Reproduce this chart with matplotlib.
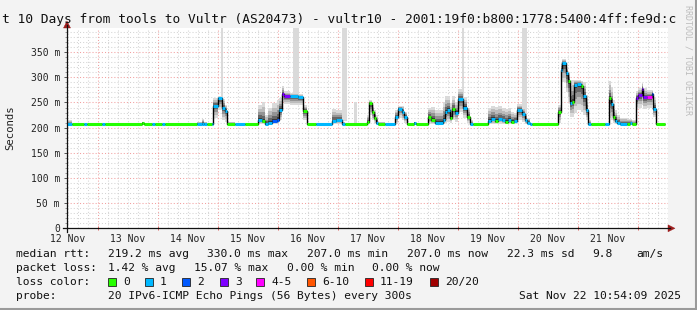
import numpy as np
import matplotlib
matplotlib.use("Agg")
import matplotlib.pyplot as plt
from matplotlib.patches import Rectangle, Polygon
from matplotlib.lines import Line2D

# ---------------- data (time in hours since 12 Nov 2025 00:00) ----------------
seg_start = [10.9, 13.6, 18.4, 19.6, 25.6, 26.8, 41.6, 42.4, 45.6, 46.8, 49.6, 50.8, 63.6, 65.6, 66.4, 67.6, 69.6,
             70.1, 72.0, 73.5, 74.8, 75.7, 78.8, 82.8,
             88.0, 89.6, 90.8, 92.0, 93.6, 95.6, 96.4, 97.4, 98.4, 100.8, 104.0, 106.1, 107.5, 111.2,
             117.5, 119.2, 121.5, 122.8,
             131.5, 132.4, 133.6, 134.4, 135.2, 136.1, 138.8,
             142.8, 144.0, 145.6, 146.4, 147.5, 150.2, 151.2,
             156.1, 157.2, 158.8, 162.1, 162.8, 163.6, 164.8, 165.6, 166.8, 168.1, 170.1, 171.5, 172.8, 174.1,
             180.1, 181.2, 182.8, 184.0, 185.6, 186.8, 188.0, 189.2, 190.4, 191.5, 193.5, 194.8, 195.5, 196.8, 197.6,
             208.1, 209.1, 209.7, 211.2, 212.1, 212.8, 213.5, 214.4, 215.5, 217.1, 218.1, 219.2, 220.1, 221.2, 226.8,
             228.4, 229.2, 230.1, 230.8, 231.6, 232.8, 235.6, 236.8, 237.6,
             239.2, 240.1, 241.5, 242.1, 243.5, 245.5, 246.1, 247.2]
seg_median = [208, 207, 207, 207, 207, 207, 210, 207, 207, 207, 207, 207, 208, 208, 208, 207, 208,
              244, 258, 240, 234, 207, 207, 207,
              216, 213, 207, 210, 213, 216, 236, 267, 262, 262, 260, 233, 207, 207,
              213, 215, 207, 207,
              212, 248, 232, 220, 210, 207, 207,
              222, 238, 232, 221, 207, 210, 207,
              221, 215, 210, 215, 232, 235, 220, 237, 230, 256, 240, 221, 207, 207,
              213, 218, 213, 217, 215, 211, 216, 212, 214, 236, 228, 215, 210, 207, 207,
              232, 315, 328, 308, 292, 249, 251, 285, 286, 282, 262, 236, 207, 207, 207,
              259, 246, 221, 214, 210, 208, 208, 209, 208,
              259, 264, 276, 260, 260, 267, 238, 207]
seg_low = [207, 206, 206, 206, 206, 206, 207, 206, 206, 206, 206, 206, 206, 206, 206, 206, 206,
           220, 235, 215, 212, 206, 206, 206,
           207, 207, 206, 206, 207, 208, 215, 250, 246, 245, 245, 215, 206, 206,
           207, 207, 206, 206,
           207, 225, 215, 210, 207, 206, 206,
           208, 220, 215, 210, 206, 207, 206,
           207, 207, 207, 207, 210, 212, 210, 215, 212, 232, 220, 210, 206, 206,
           207, 207, 207, 208, 207, 207, 207, 207, 207, 215, 212, 208, 207, 206, 206,
           210, 275, 290, 270, 250, 222, 222, 230, 235, 232, 225, 215, 206, 206, 206,
           220, 215, 210, 208, 207, 206, 206, 206, 206,
           235, 240, 245, 238, 240, 245, 222, 206]
seg_high = [215, 208, 208, 208, 208, 208, 211, 208, 208, 208, 208, 208, 211, 218, 211, 208, 210,
            258, 263, 256, 245, 212, 208, 209,
            245, 250, 225, 240, 248, 255, 258, 282, 272, 268, 266, 245, 209, 209,
            237, 235, 212, 209,
            225, 255, 245, 235, 225, 212, 209,
            235, 243, 243, 232, 209, 212, 208,
            240, 242, 235, 250, 262, 262, 248, 262, 250, 276, 260, 240, 215, 208,
            240, 243, 242, 243, 240, 238, 240, 232, 230, 246, 240, 230, 220, 210, 208,
            245, 330, 336, 320, 310, 295, 295, 295, 295, 293, 290, 265, 215, 208, 208,
            292, 280, 255, 235, 225, 220, 218, 218, 215,
            272, 278, 289, 278, 275, 275, 260, 209]
seg_loss = [1, 0, 1, 0, 1, 0, 0, 0, 1, 0, 1, 0, 1, 1, 1, 0, 1,
            1, 1, 1, 1, 0, 1, 0,
            1, 0, 1, 1, 2, 2, 1, 3, 3, 1, 1, 0, 0, 1,
            1, 1, 1, 0,
            0, 0, 0, 0, 1, 0, 1,
            1, 1, 1, 1, 0, 1, 0,
            0, 0, 1, 1, 1, 1, 0, 0, 1, 1, 1, 0, 1, 0,
            1, 1, 0, 1, 1, 0, 1, 0, 1, 1, 1, 1, 1, 1, 0,
            0, 1, 1, 1, 0, 1, 0, 1, 1, 0, 1, 1, 1, 0, 1,
            0, 1, 0, 1, 1, 1, 0, 1, 0,
            3, 3, 3, 3, 4, 2, 1, 0]
data_end = 250.9

# outlier pings (light grey columns)
spike_start = [73.2, 101.9, 121.5, 126.4, 169.5, 193.5]
spike_end = [74.0, 104.4, 123.5, 127.5, 170.4, 195.5]
spike_bottom = [250, 262, 213, 207, 258, 225]
spike_top = [398, 398, 398, 250, 398, 398]

day_labels = ["12 Nov", "13 Nov", "14 Nov", "15 Nov", "16 Nov",
              "17 Nov", "18 Nov", "19 Nov", "20 Nov", "21 Nov"]
y_ticks = [0, 50, 100, 150, 200, 250, 300, 350]
y_tick_labels = ["0", "50 m", "100 m", "150 m", "200 m", "250 m", "300 m", "350 m"]

loss_labels = ["0", "1", "2", "3", "4-5", "6-10", "11-19", "20/20"]
loss_colors = ["#26ff00", "#00b8ff", "#0059ff", "#7e00ff", "#ff00ff", "#ff5500", "#ff0000", "#a00000"]

title = "t 10 Days from tools to Vultr (AS20473) - vultr10 - 2001:19f0:b800:1778:5400:4ff:fe9d:c"
rtt_items = ["median rtt:", "219.2 ms avg", "330.0 ms max", "207.0 ms min", "207.0 ms now", "22.3 ms sd", "9.8", "am/s"]
loss_items = ["packet loss:", "1.42 % avg", "15.07 % max", "0.00 % min", "0.00 % now"]
probe_text = "20 IPv6-ICMP Echo Pings (56 Bytes) every 300s"
stamp = "Sat Nov 22 10:54:09 2025"


def loss_bucket(n):
    if n <= 3:
        return n
    if n <= 5:
        return 4
    if n <= 10:
        return 5
    if n <= 19:
        return 6
    return 7


# ---------------- figure ----------------
W, H = 697, 310
MONO = "DejaVu Sans Mono"
fig = plt.figure(figsize=(W / 100, H / 100), dpi=100, facecolor="#f3f3f3")


def fx(x):
    return x / W


def fy(y):
    return 1 - y / H


AX_L, AX_R, AX_T, AX_B = 67, 668, 28, 228.3
ax = fig.add_axes([fx(AX_L), fy(AX_B), (AX_R - AX_L) / W, (AX_B - AX_T) / H])
ax.set_facecolor("white")
ax.set_xlim(11.6, 252.0)
ax.set_ylim(0, 398)
for s in ax.spines.values():
    s.set_visible(False)

dot = (0, (1, 2))
for h in range(12, 253, 4):
    if h % 24:
        ax.axvline(h, color="#d4d4d4", lw=0.75, ls=dot, zorder=0)
for v in range(10, 398, 10):
    if v % 50:
        ax.axhline(v, color="#d4d4d4", lw=0.75, ls=dot, zorder=0)
for h in range(24, 253, 24):
    ax.axvline(h, color="#f2a0a0", lw=0.75, ls=dot, zorder=0.5)
for v in range(50, 398, 50):
    ax.axhline(v, color="#f2a0a0", lw=0.75, ls=dot, zorder=0.5)

edges = np.array(seg_start + [data_end])
med = np.array(seg_median, float)
lo = np.array(seg_low, float)
hi = np.array(seg_high, float)

for s, e, b, t in zip(spike_start, spike_end, spike_bottom, spike_top):
    ax.add_patch(Rectangle((s, b), e - s, t - b, facecolor="#dadada", lw=0, zorder=1.5))

layers = [(1.0, "#dadada"), (0.75, "#bcbcbc"), (0.5, "#949494"), (0.3, "#666666"), (0.12, "#383838")]
for f, c in layers:
    ax.stairs(med + f * (hi - med), edges, baseline=med - f * (med - lo),
              fill=True, facecolor=c, lw=0, zorder=2)

ax.stairs(med, edges, baseline=None, color="black", lw=1.0, zorder=3)
for i in range(len(med)):
    ax.hlines(med[i], edges[i], edges[i + 1], color=loss_colors[loss_bucket(seg_loss[i])],
              lw=2.2, zorder=4, capstyle="butt")

# ticks
ax.set_xticks([12 + 24 * i for i in range(len(day_labels))])
ax.set_xticklabels(day_labels, fontfamily=MONO, fontsize=7, color="#222222")
ax.tick_params(axis="x", which="major", length=0, pad=4.3)
ax.set_xticks(list(range(24, 253, 24)), minor=True)
ax.tick_params(axis="x", which="minor", length=3, direction="inout", color="#e06060", width=0.7)
ax.set_yticks(y_ticks)
ax.set_yticklabels(y_tick_labels, fontfamily=MONO, fontsize=7, color="#222222")
ax.tick_params(axis="y", which="major", length=2.5, direction="out", color="#555555", width=0.7, pad=2.6)
ax.set_yticks(list(range(10, 398, 10)), minor=True)
ax.tick_params(axis="y", which="minor", length=1.5, direction="out", color="#888888", width=0.6)

# axis lines and arrows
fig.add_artist(Line2D([fx(63), fx(670)], [fy(AX_B), fy(AX_B)], color="#111111", lw=0.9))
fig.add_artist(Line2D([fx(AX_L), fx(AX_L)], [fy(232), fy(25)], color="#111111", lw=0.9))
arrow_c = "#9c1c1c"
fig.add_artist(Polygon([(fx(668), fy(224.8)), (fx(668), fy(231.8)), (fx(675), fy(AX_B))],
                       closed=True, facecolor=arrow_c, edgecolor=arrow_c, lw=0.3))
fig.add_artist(Polygon([(fx(63.5), fy(28)), (fx(70.5), fy(28)), (fx(AX_L), fy(21))],
                       closed=True, facecolor=arrow_c, edgecolor=arrow_c, lw=0.3))

# title, labels, watermark
fig.text(fx(2), fy(20), title, fontfamily=MONO, fontsize=9.25, color="#111111", ha="left", va="center")
fig.text(fx(10), fy(128), "Seconds", fontfamily=MONO, fontsize=7.7, color="#222222",
         rotation=90, ha="center", va="center")
fig.text(fx(688), fy(5), "RRDTOOL / TOBI OETIKER", fontfamily=MONO, fontsize=6, color="#bcbcbc",
         rotation=270, ha="center", va="top")

# legend
LF = 8.1
rtt_x = [16, 107.6, 207, 307, 407, 507, 592, 636]
for x, t in zip(rtt_x, rtt_items):
    fig.text(fx(x), fy(254), t, fontfamily=MONO, fontsize=LF, color="#111111", ha="left", va="center")
loss_x = [16, 107.6, 194, 287, 372]
for x, t in zip(loss_x, loss_items):
    fig.text(fx(x), fy(268), t, fontfamily=MONO, fontsize=LF, color="#111111", ha="left", va="center")
fig.text(fx(16), fy(282), "loss color:", fontfamily=MONO, fontsize=LF, color="#111111", ha="left", va="center")
sw_x = [108, 145, 182, 220, 256, 307, 365, 430]
for x, lab, c in zip(sw_x, loss_labels, loss_colors):
    fig.add_artist(Rectangle((fx(x), fy(286)), 8 / W, 8 / H, facecolor=c, edgecolor="#222222", lw=0.6))
    fig.text(fx(x + 15), fy(282), lab, fontfamily=MONO, fontsize=LF, color="#111111", ha="left", va="center")
fig.text(fx(16), fy(296), "probe:", fontfamily=MONO, fontsize=LF, color="#111111", ha="left", va="center")
fig.text(fx(107.6), fy(296), probe_text, fontfamily=MONO, fontsize=LF, color="#111111", ha="left", va="center")
fig.text(fx(681), fy(296), stamp, fontfamily=MONO, fontsize=LF, color="#111111", ha="right", va="center")

# frame
fig.add_artist(Line2D([fx(0), fx(697)], [fy(309), fy(309)], color="#9a9a9a", lw=1.5))
fig.add_artist(Line2D([fx(696), fx(696)], [fy(0), fy(310)], color="#9a9a9a", lw=1.5))

fig.savefig("out.png", dpi=100, facecolor=fig.get_facecolor())
